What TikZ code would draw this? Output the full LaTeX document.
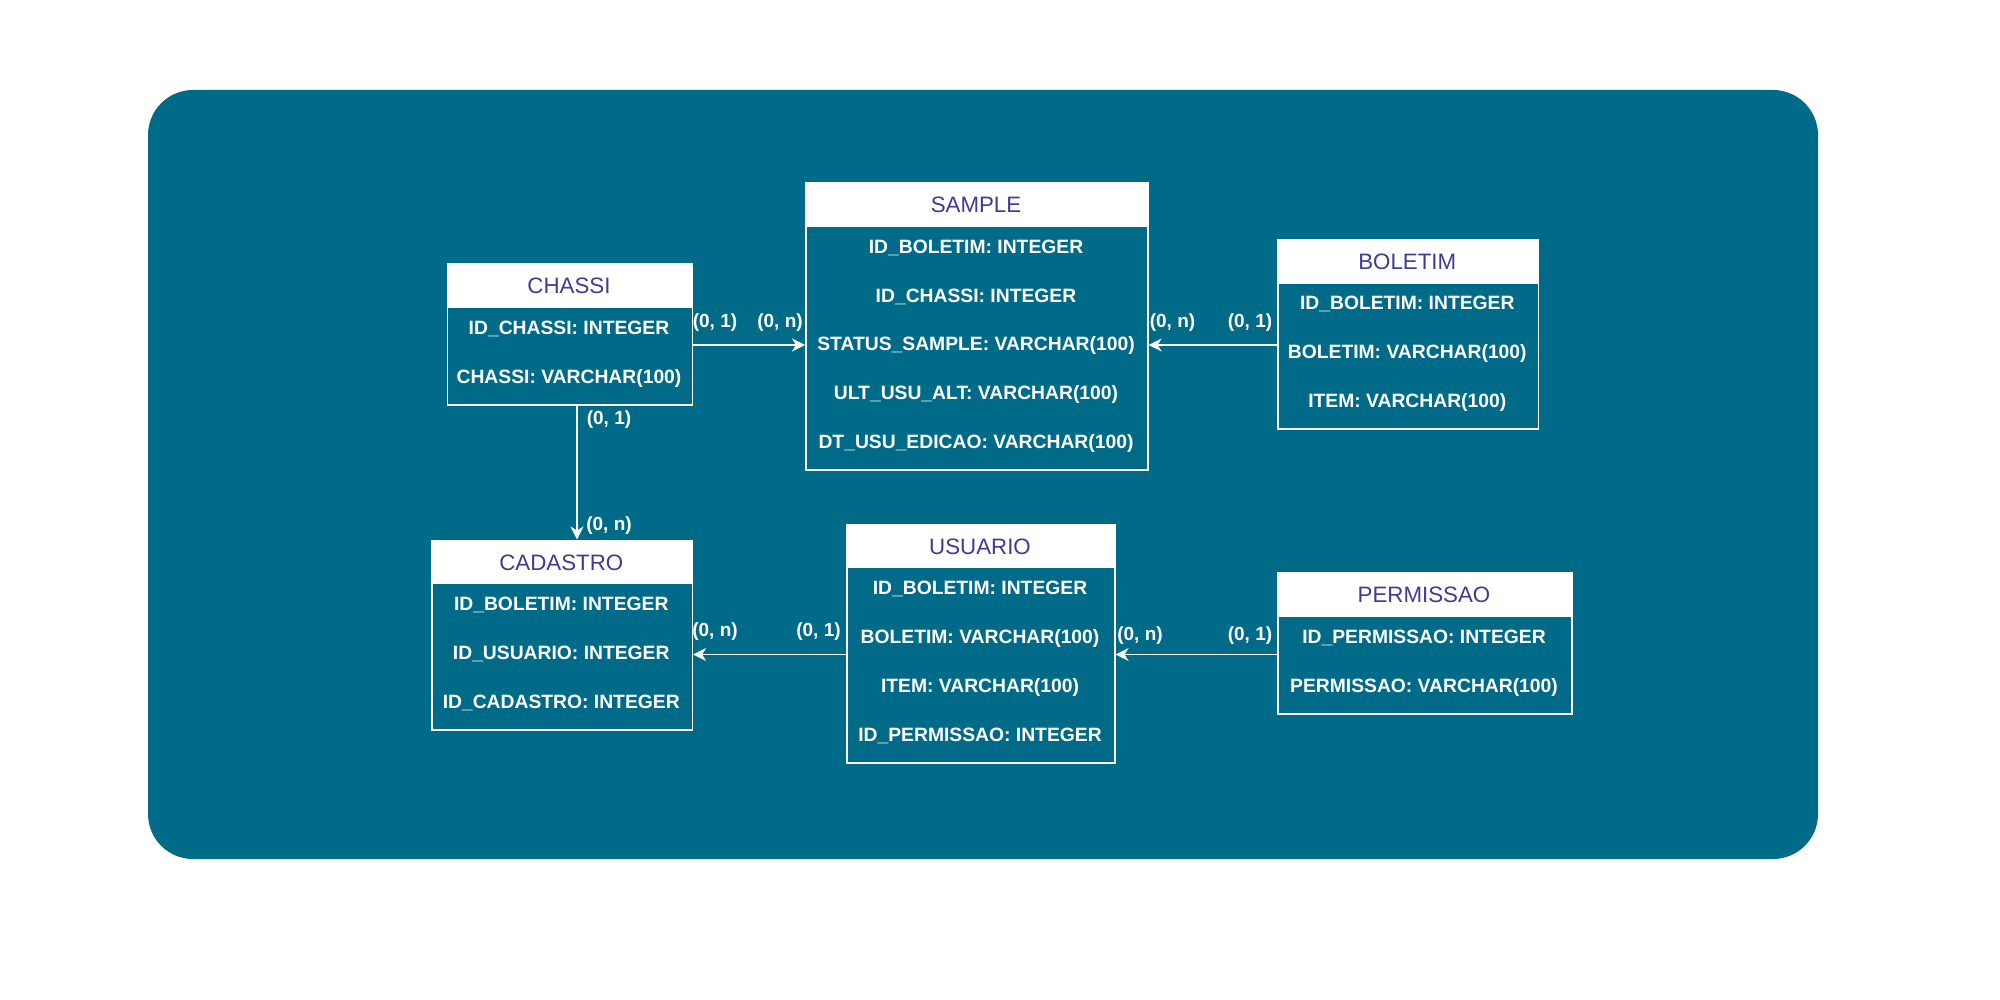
\documentclass[tikz,border=0pt]{standalone}
\usepackage{fontspec}
\setmainfont{Liberation Sans}
\usetikzlibrary{arrows.meta}
\definecolor{bgteal}{RGB}{0,106,137}
\definecolor{hdrblue}{RGB}{60,60,148}
\tikzset{
  hdrbox/.style={draw=white, fill=white, line width=0.8pt, anchor=north west, inner sep=0pt, minimum height=21.65pt},
  bodybox/.style={draw=white, fill=bgteal, line width=0.8pt, anchor=north west, inner sep=0pt},
  hdrtext/.style={text=hdrblue, font=\fontsize{11.15}{13}\selectfont, anchor=base, inner sep=0pt},
  rowtext/.style={text=white, font=\bfseries\fontsize{9.65}{11}\selectfont, anchor=base, inner sep=0pt},
  card/.style={text=white, font=\bfseries\fontsize{9.5}{11}\selectfont, anchor=base, inner sep=0pt},
  conn/.style={draw=white, line width=0.8pt, -{Stealth[length=6.5pt, width=6.5pt, inset=2pt]}}
}
% #1 name, #2 x, #3 y (px), #4 width (px), #5 rows, #6 title, #7 row texts
\newcommand\ertable[7]{%
  \node[hdrbox, minimum width=#4*0.5pt] (#1) at (#2,#3) {};
  \node[bodybox, minimum width=#4*0.5pt, minimum height=#5*24.4pt] (#1-b) at (#2,#3+43.3) {};
  \node[hdrtext] (#1-t) at (#2+#4/2,#3+30.5) {#6};
  \foreach \r [count=\i from 0] in {#7}
    \node[rowtext] (#1-r\i) at (#2+#4/2,#3+43.3+27.9+48.8*\i) {\r};
}
\begin{document}
\begin{tikzpicture}[x=0.5pt, y=-0.5pt]
\useasboundingbox (0,0) rectangle (2000,1000);
\fill[bgteal, rounded corners=22.5pt] (148,90) rectangle (1818,859);

\ertable{chassi}{446.5}{263}{245}{2}{CHASSI}{ID\_CHASSI: INTEGER, CHASSI: VARCHAR(100)}
\ertable{sample}{805}{182}{342}{5}{SAMPLE}{ID\_BOLETIM: INTEGER, ID\_CHASSI: INTEGER, STATUS\_SAMPLE: VARCHAR(100), ULT\_USU\_ALT: VARCHAR(100), DT\_USU\_EDICAO: VARCHAR(100)}
\ertable{boletim}{1277}{238.7}{260.5}{3}{BOLETIM}{ID\_BOLETIM: INTEGER, BOLETIM: VARCHAR(100), ITEM: VARCHAR(100)}
\ertable{cadastro}{431}{539.5}{260.5}{3}{CADASTRO}{ID\_BOLETIM: INTEGER, ID\_USUARIO: INTEGER, ID\_CADASTRO: INTEGER}
\ertable{usuario}{846}{523.5}{268}{4}{USUARIO}{ID\_BOLETIM: INTEGER, BOLETIM: VARCHAR(100), ITEM: VARCHAR(100), ID\_PERMISSAO: INTEGER}
\ertable{permissao}{1277}{572.3}{294}{2}{PERMISSAO}{ID\_PERMISSAO: INTEGER, PERMISSAO: VARCHAR(100)}

\coordinate (ya) at (0,345);
\coordinate (yb) at (0,654.5);
\coordinate (xv) at (577,0);

\draw[conn] (chassi-b.east |- ya) -- (sample-b.west |- ya);
\draw[conn] (boletim-b.west |- ya) -- (sample-b.east |- ya);
\draw[conn] (chassi-b.south -| xv) -- (cadastro.north -| xv);
\draw[conn] (usuario-b.west |- yb) -- (cadastro-b.east |- yb);
\draw[conn] (permissao-b.west |- yb) -- (usuario-b.east |- yb);

\node[card] (c1) at (715,327) {(0, 1)};
\node[card] (c2) at (780,327) {(0, n)};
\node[card] (c3) at (1172.5,327) {(0, n)};
\node[card] (c4) at (1250,327) {(0, 1)};
\node[card] (c5) at (609,424.3) {(0, 1)};
\node[card] (c6) at (609,530) {(0, n)};
\node[card] (c7) at (715,636) {(0, n)};
\node[card] (c8) at (818.5,636) {(0, 1)};
\node[card] (c9) at (1140,640) {(0, n)};
\node[card] (c10) at (1250,640) {(0, 1)};
\end{tikzpicture}
\end{document}
